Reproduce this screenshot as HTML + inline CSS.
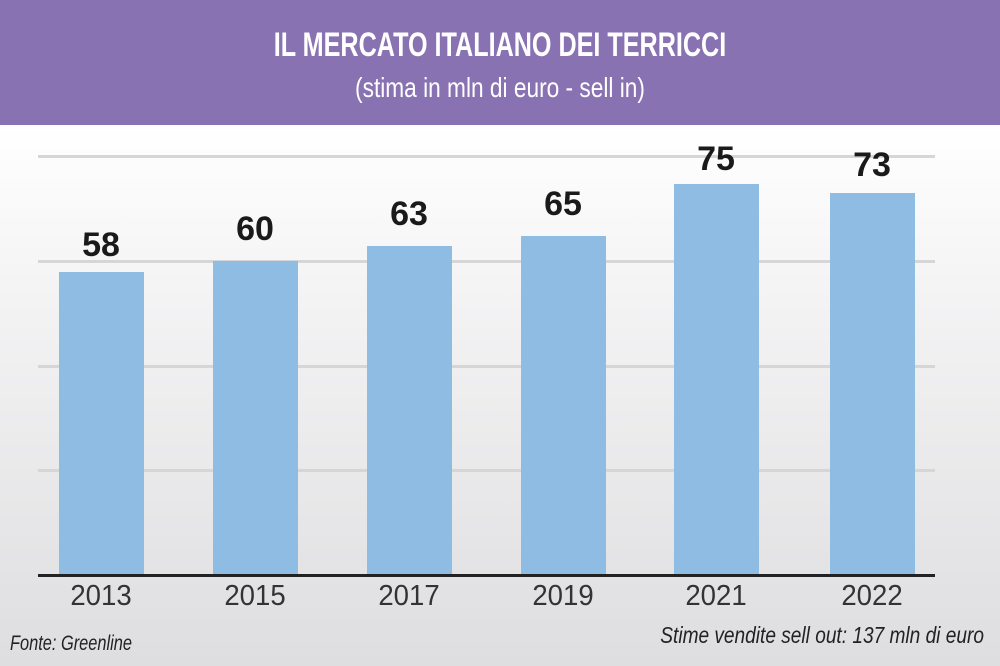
<!DOCTYPE html>
<html><head><meta charset="utf-8"><style>
html,body{margin:0;padding:0}
body{width:1000px;height:666px;position:relative;overflow:hidden;font-family:"Liberation Sans",sans-serif;background:linear-gradient(#ffffff 125px,#f3f3f4 300px,#dedee0 666px)}
.hdr{position:absolute;left:0;top:0;width:1000px;height:125px;background:#8872b2}
.t{position:absolute;left:0;width:1000px;text-align:center;color:#fff;white-space:nowrap}
.g{position:absolute;left:38px;width:897px;height:3px;background:#d6d6d8}
.bar{position:absolute;width:85px;background:#8fbce2;bottom:90px}
.v{position:absolute;width:120px;text-align:center;font-weight:bold;font-size:34px;color:#1a1a1a}
.y{position:absolute;top:580px;width:120px;text-align:center;font-size:29px;color:#333;transform:scaleX(0.95)}
</style></head><body>
<div class="hdr"></div>
<div class="t" style="top:26px;font-size:34px;font-weight:bold;transform:scaleX(0.74)">IL MERCATO ITALIANO DEI TERRICCI</div>
<div class="t" style="top:72px;font-size:28px;transform:scaleX(0.81)">(stima in mln di euro - sell in)</div>
<div class="g" style="top:155px"></div>
<div class="g" style="top:260px"></div>
<div class="g" style="top:365px"></div>
<div class="g" style="top:469px"></div>
<div class="bar" style="left:59px;top:272px"></div>
<div class="bar" style="left:213px;top:261px"></div>
<div class="bar" style="left:367px;top:246px"></div>
<div class="bar" style="left:521px;top:236px"></div>
<div class="bar" style="left:674px;top:184px"></div>
<div class="bar" style="left:830px;top:193px"></div>
<div style="position:absolute;left:38px;top:574px;width:897px;height:3px;background:#222"></div>
<div class="v" style="left:41px;top:226px">58</div>
<div class="v" style="left:195px;top:210px">60</div>
<div class="v" style="left:349px;top:195px">63</div>
<div class="v" style="left:503px;top:185px">65</div>
<div class="v" style="left:656px;top:140px">75</div>
<div class="v" style="left:812px;top:146px">73</div>
<div class="y" style="left:41px">2013</div>
<div class="y" style="left:195px">2015</div>
<div class="y" style="left:349px">2017</div>
<div class="y" style="left:503px">2019</div>
<div class="y" style="left:656px">2021</div>
<div class="y" style="left:812px">2022</div>
<div style="position:absolute;left:10px;top:632px;font-size:21px;font-style:italic;color:#222;transform:scaleX(0.78);transform-origin:left;white-space:nowrap">Fonte: Greenline</div>
<div style="position:absolute;right:16px;top:622px;font-size:23px;font-style:italic;color:#222;white-space:nowrap;transform:scaleX(0.83);transform-origin:right">Stime vendite sell out: 137 mln di euro</div>
</body></html>
